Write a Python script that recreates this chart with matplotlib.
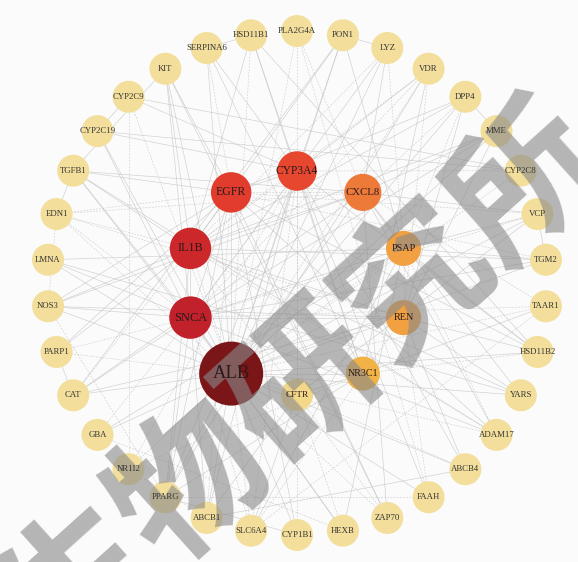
import numpy as np
import matplotlib
matplotlib.use("Agg")
import matplotlib.pyplot as plt
from matplotlib.patches import Circle
from matplotlib.colors import LinearSegmentedColormap

# outer ring, clockwise from the top
outer_nodes = ["PLA2G4A", "PON1", "LYZ", "VDR", "DPP4", "MME", "CYP2C8", "VCP",
               "TGM2", "TAAR1", "HSD11B2", "YARS", "ADAM17", "ABCB4", "FAAH",
               "ZAP70", "HEXB", "CYP1B1", "SLC6A4", "ABCB1", "PPARG", "NR1I2",
               "GBA", "CAT", "PARP1", "NOS3", "LMNA", "EDN1", "TGFB1", "CYP2C19",
               "CYP2C9", "KIT", "SERPINA6", "HSD11B1"]

# inner ring, clockwise from the top
inner_nodes = ["CYP3A4", "CXCL8", "PSAP", "REN", "NR3C1", "CFTR", "ALB",
               "SNCA", "IL1B", "EGFR"]
inner_degree = [27, 24, 21, 21, 19, 12, 45, 30, 29, 28]

# interactions (source: targets)
links = {
    "ALB": " ".join(outer_nodes) + " CYP3A4 EGFR IL1B SNCA CXCL8 PSAP REN NR3C1 CFTR",
    "SNCA": "IL1B EGFR CYP3A4 PSAP REN PARP1 NOS3 LMNA EDN1 TGFB1 CAT GBA PPARG HEXB "
            "SLC6A4 ABCB1 KIT VDR LYZ TGM2 TAAR1 MME ADAM17 VCP CYP2C19",
    "IL1B": "EGFR CYP3A4 CXCL8 NOS3 EDN1 TGFB1 PARP1 CAT PPARG KIT VDR PON1 MME ADAM17 "
            "DPP4 TGM2 ZAP70 HSD11B1 REN LYZ YARS",
    "EGFR": "CYP3A4 CXCL8 KIT TGFB1 EDN1 PPARG ADAM17 VCP PARP1 NOS3 ABCB1 ZAP70 DPP4 "
            "TGM2 HSD11B2 CYP1B1 SERPINA6",
    "CYP3A4": "CYP2C9 CYP2C19 CYP2C8 ABCB1 ABCB4 NR1I2 VDR PPARG CYP1B1 HSD11B1 HSD11B2 "
              "SLC6A4 FAAH SERPINA6 PLA2G4A PON1 NR3C1 CFTR",
    "CXCL8": "PSAP TGFB1 EDN1 NOS3 ADAM17 DPP4 MME LYZ PLA2G4A ZAP70 VCP TAAR1 CAT YARS",
    "PSAP": "REN GBA HEXB LYZ VCP TGM2 ADAM17 LMNA SLC6A4 DPP4 PON1 HSD11B2",
    "REN": "NR3C1 MME DPP4 EDN1 NOS3 CAT VDR HSD11B2 ABCB4 FAAH YARS",
    "NR3C1": "HSD11B1 HSD11B2 SERPINA6 PPARG NR1I2 VDR CFTR SLC6A4 TAAR1",
    "CFTR": "ABCB1 ABCB4 SLC6A4 VCP HEXB",
    "CYP2C9": "CYP2C19 CYP2C8 NR1I2",
    "CYP2C19": "CYP2C8",
    "ABCB1": "ABCB4 NR1I2",
    "HSD11B1": "HSD11B2 SERPINA6",
    "PPARG": "NOS3 VDR CYP1B1 FAAH",
    "KIT": "TGFB1 ZAP70",
    "EDN1": "NOS3 TGFB1",
    "PARP1": "CAT",
    "GBA": "HEXB",
    "MME": "DPP4",
    "ADAM17": "TGFB1",
    "FAAH": "PLA2G4A",
    "PON1": "CAT LYZ",
    "TAAR1": "SLC6A4",
    "YARS": "LMNA",
    "TGM2": "VCP",
}

cx, cy = 297, 283
pos = {}
for i, n in enumerate(outer_nodes):
    a = np.deg2rad(90 - i * 360 / len(outer_nodes))
    pos[n] = (cx + 250 * np.cos(a), cy - 252 * np.sin(a))
for i, n in enumerate(inner_nodes):
    a = np.deg2rad(90 - i * 360 / len(inner_nodes))
    pos[n] = (cx + 112 * np.cos(a), cy - 112 * np.sin(a))

cmap = LinearSegmentedColormap.from_list("deg", [
    (0.0, "#F3DF9B"), (0.11, "#F3D888"), (0.30, "#F1B245"), (0.35, "#F1A142"),
    (0.43, "#EE7B3A"), (0.51, "#E8472F"), (0.54, "#E23D2E"), (0.57, "#CB262A"),
    (0.60, "#C0202A"), (1.0, "#7A1518")])

fig = plt.figure(figsize=(5.78, 5.62), dpi=100)
fig.patch.set_facecolor("#FBFBFB")
ax = fig.add_axes([0, 0, 1, 1])
ax.set_xlim(0, 578)
ax.set_ylim(562, 0)
ax.set_aspect("equal")
ax.axis("off")

k = 0
for src, tgts in links.items():
    for t in tgts.split():
        if t == src:
            continue
        (x0, y0), (x1, y1) = pos[src], pos[t]
        ls = (0, (3, 2)) if k % 3 == 0 else "-"
        ax.plot([x0, x1], [y0, y1], color="#C4C4C4", lw=0.45, ls=ls, alpha=0.8, zorder=1)
        k += 1

for n in outer_nodes:
    ax.add_patch(Circle(pos[n], 16, facecolor=cmap(0.0), edgecolor="none", zorder=3))
    ax.text(*pos[n], n, ha="center", va="center", fontsize=6.3,
            family="Liberation Serif", color="#333333", zorder=7)

for n, d in zip(inner_nodes, inner_degree):
    t = (d - 8) / (45 - 8)
    r = 16 + 16 * ((d - 10) / 35) ** 2
    ax.add_patch(Circle(pos[n], r, facecolor=cmap(t), edgecolor="none", zorder=3))
    ax.text(*pos[n], n, ha="center", va="center", fontsize=r * 0.42,
            family="Liberation Serif", color="#2a1a1a", zorder=7)

# watermark
ax.text(305, 385, "生物研究所", rotation=42, ha="center", va="center",
        fontsize=108, family=["Noto Sans CJK SC", "DejaVu Sans"], weight="bold",
        color="#8a8a8a", alpha=0.62, zorder=6)

fig.savefig("out.png", dpi=100, facecolor=fig.get_facecolor())
